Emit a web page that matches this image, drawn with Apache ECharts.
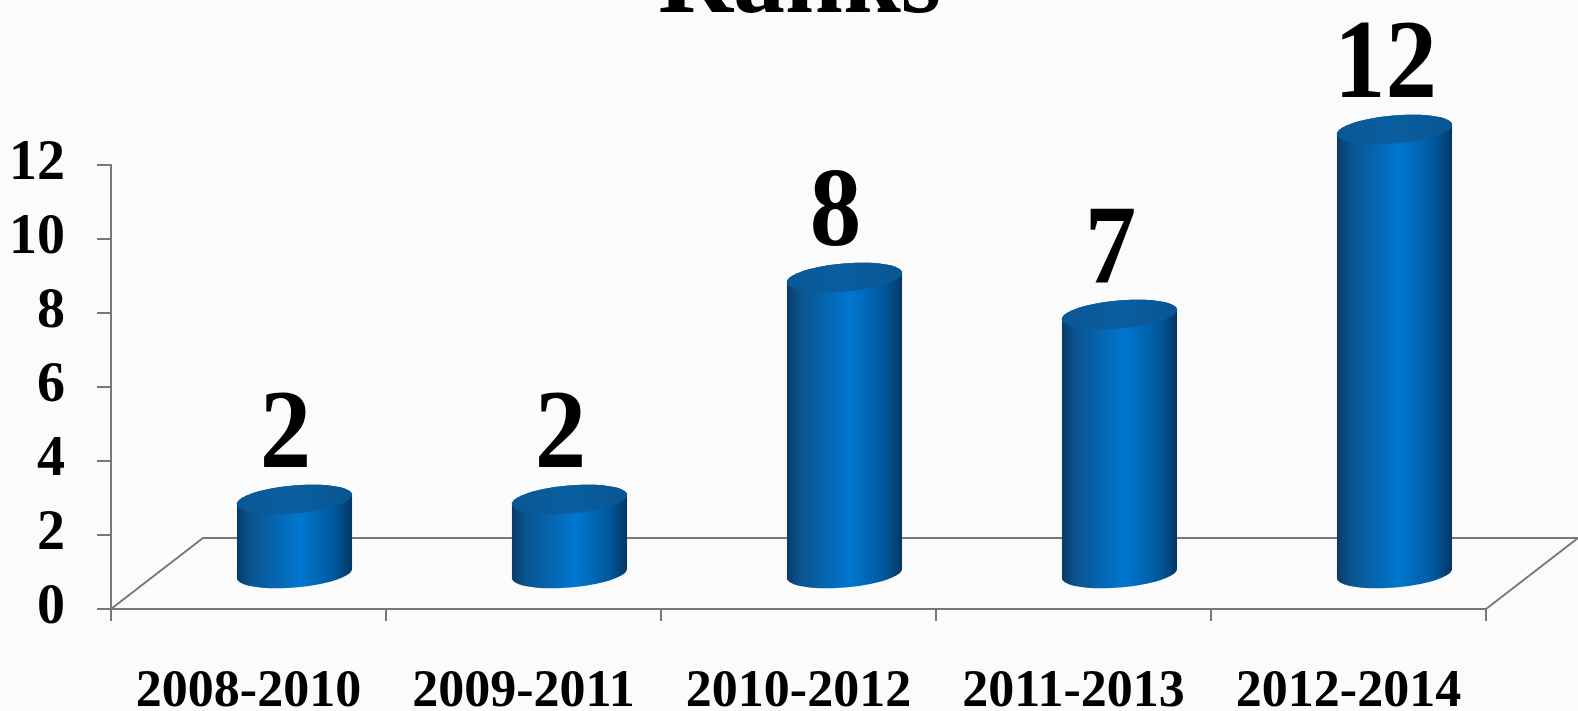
<!DOCTYPE html>
<html>
<head>
<meta charset="utf-8">
<script src="https://cdn.jsdelivr.net/npm/echarts@6/dist/echarts.min.js"></script>
<style>
html,body{margin:0;padding:0;background:#fbfbfb;}
#chart{width:1578px;height:711px;}
</style>
</head>
<body>
<div id="chart"></div>
<script>
var titleText = 'Ranks';
var categories = ['2008-2010', '2009-2011', '2010-2012', '2011-2013', '2012-2014'];
var values = [2, 2, 8, 7, 12];
var yTicks = [0, 2, 4, 6, 8, 10, 12];

var FONT = '"Liberation Serif", "Times New Roman", serif';
var DEPTH_X = 92, DEPTH_Y = -71;
var AXIS_COLOR = '#777777';

var chart = echarts.init(document.getElementById('chart'), null, {renderer: 'canvas'});

function bodyGradient() {
  return new echarts.graphic.LinearGradient(0, 0, 1, 0, [
    {offset: 0, color: '#083b68'},
    {offset: 0.12, color: '#0b5490'},
    {offset: 0.55, color: '#0077cf'},
    {offset: 0.85, color: '#00589c'},
    {offset: 1, color: '#053763'}
  ]);
}
function topGradient() {
  return new echarts.graphic.LinearGradient(0, 0, 1, 0, [
    {offset: 0, color: '#0a5797'},
    {offset: 0.5, color: '#0a5e9f'},
    {offset: 1, color: '#0a5592'}
  ]);
}

function renderFloor(params, api) {
  var cs = params.coordSys;
  var x0 = cs.x, x1 = cs.x + cs.width, y0 = cs.y + cs.height;
  var style = {stroke: AXIS_COLOR, lineWidth: 2, fill: null};
  return {
    type: 'group',
    children: [
      {type: 'polyline', shape: {points: [[x0, y0], [x0 + DEPTH_X, y0 + DEPTH_Y], [x1 + DEPTH_X, y0 + DEPTH_Y]]}, style: style, silent: true},
      {type: 'line', shape: {x1: x1, y1: y0, x2: x1 + DEPTH_X, y2: y0 + DEPTH_Y}, style: style, silent: true}
    ]
  };
}

function ellipsePoint(cx, cy, rx, ry, rot, t) {
  var dx = rx * Math.cos(t), dy = ry * Math.sin(t);
  return [cx + dx * Math.cos(rot) + dy * Math.sin(rot), cy - dx * Math.sin(rot) + dy * Math.cos(rot)];
}

function renderCylinder(params, api) {
  var idx = api.value(0);
  var val = api.value(1);
  var base = api.coord([idx, 0]);
  var top = api.coord([idx, val]);
  var band = api.size([1, 0])[0];
  var rx = band * 0.21;
  var ry = 14;
  var cx = base[0] + DEPTH_X / 2;
  var by = base[1] + DEPTH_Y / 2;
  var ty = top[1] + DEPTH_Y / 2;
  var rot = 0.085;
  var N = 40, i, body = [], topPts = [];
  for (i = 0; i <= N; i++) body.push(ellipsePoint(cx, by, rx, ry, rot, Math.PI * i / N));
  for (i = 0; i <= N; i++) body.push(ellipsePoint(cx, ty, rx, ry, rot, Math.PI + Math.PI * i / N));
  for (i = 0; i < 2 * N; i++) topPts.push(ellipsePoint(cx, ty, rx, ry, rot, Math.PI * i / N));
  return {
    type: 'group',
    children: [
      {type: 'polygon', shape: {points: body}, style: {fill: bodyGradient()}},
      {type: 'polygon', shape: {points: topPts}, style: {fill: topGradient()}},
      {type: 'text', x: cx - 9, y: ty - 6, scaleY: 1.08, originX: 0, originY: 0,
        style: {text: String(val), font: 'bold 103px ' + FONT, fill: '#000', align: 'center', verticalAlign: 'bottom'}}
    ]
  };
}

var option = {
  backgroundColor: '#fbfbfb',
  animation: false,
  graphic: [
    {type: 'text', left: 658, top: -67, style: {text: titleText, font: 'bold 104px ' + FONT, fill: '#000'}}
  ],
  grid: {left: 111, top: 165, right: 92, bottom: 102, containLabel: false, outerBoundsMode: 'none'},
  xAxis: {
    type: 'category',
    data: categories,
    boundaryGap: true,
    axisLine: {show: true, lineStyle: {color: AXIS_COLOR, width: 2}},
    axisTick: {show: true, length: 12, lineStyle: {color: AXIS_COLOR, width: 2}},
    axisLabel: {color: '#000', fontFamily: FONT, fontWeight: 'bold', fontSize: 52, margin: 58, interval: 0}
  },
  yAxis: {
    type: 'value',
    min: 0, max: 12, interval: 2,
    axisLine: {show: true, lineStyle: {color: AXIS_COLOR, width: 2}},
    axisTick: {show: true, length: 14, lineStyle: {color: AXIS_COLOR, width: 2}},
    axisLabel: {color: '#000', fontFamily: FONT, fontWeight: 'bold', fontSize: 56, margin: 46, padding: [6, 0, 0, 0]},
    splitLine: {show: false}
  },
  series: [
    {type: 'custom', renderItem: renderFloor, data: [[0, 0]], silent: true, z: 1},
    {type: 'custom', renderItem: renderCylinder, data: values.map(function (v, i) { return [i, v]; }), z: 3}
  ]
};
chart.setOption(option);
</script>
</body>
</html>
